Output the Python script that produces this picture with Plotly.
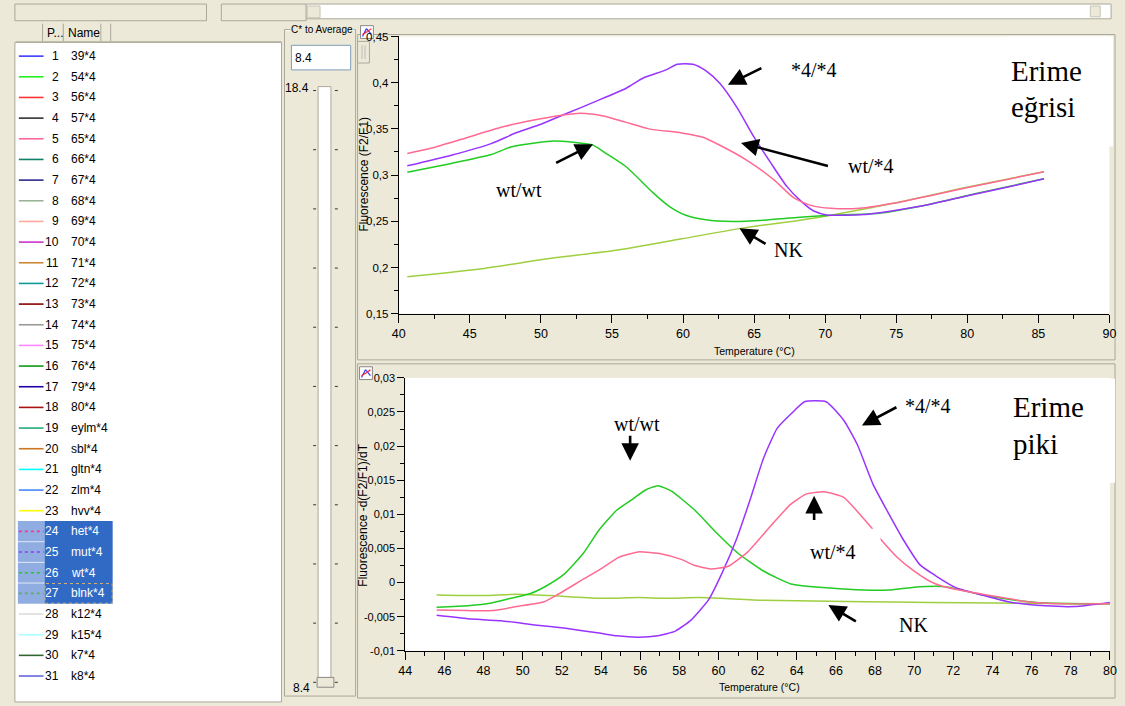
import plotly.graph_objects as go

W, H = 1125, 706
BEIGE = "#ECE9D8"
EDGE = "#ACA899"
SELECT_BLUE = "#316AC5"

# ---------------- sample list (left panel) ----------------
sample_names = ["39*4", "54*4", "56*4", "57*4", "65*4", "66*4", "67*4", "68*4", "69*4", "70*4",
                "71*4", "72*4", "73*4", "74*4", "75*4", "76*4", "79*4", "80*4", "eylm*4", "sbl*4",
                "gltn*4", "zlm*4", "hvv*4", "het*4", "mut*4", "wt*4", "blnk*4", "k12*4", "k15*4",
                "k7*4", "k8*4"]
sample_colors = ["#3c3cff", "#22ee22", "#ff3333", "#303030", "#ff6699", "#11806a", "#2a2a88",
                 "#99b399", "#ffaa99", "#cc33cc", "#cc8833", "#119999", "#880000", "#999999",
                 "#ff88ff", "#119911", "#2200aa", "#aa1111", "#22aa77", "#cc7722", "#00ffff",
                 "#4488ff", "#ffff00", "#ff3399", "#9933ff", "#22cc22", "#66aa66", "#dddddd",
                 "#aaffff", "#336633", "#6666dd"]
selected_samples = ["het*4", "mut*4", "wt*4", "blnk*4"]
focused_sample = "blnk*4"

# ---------------- melting curves: F2/F1 vs temperature ----------------
melt_t_hom = [40.6, 43.7, 46.5, 48.3, 50.0, 51.8, 53.9, 56.0, 57.2, 58.8, 59.6, 60.7, 61.6, 62.6,
              63.8, 65.0, 66.2, 67.3, 68.3, 69.2, 70.1, 72.7, 75.0, 77.3, 80.1, 82.7, 85.4]
melt_hom = [0.310, 0.3215, 0.334, 0.346, 0.355, 0.3666, 0.380, 0.394, 0.405, 0.4138, 0.420, 0.420,
            0.413, 0.399, 0.373, 0.341, 0.3126, 0.2878, 0.2718, 0.2611, 0.2569, 0.2572, 0.2620,
            0.2682, 0.2780, 0.2865, 0.2960]

melt_t_het = [40.6, 42.6, 44.9, 47.2, 49.5, 51.1, 52.8, 54.4, 56.0, 57.6, 59.9, 61.4, 62.7, 64.5,
              66.4, 67.8, 69.0, 70.4, 72.4, 75.0, 79.7, 85.4]
melt_het = [0.3233, 0.3304, 0.341, 0.3517, 0.3595, 0.364, 0.3669, 0.364, 0.357, 0.350, 0.3456,
            0.341, 0.3315, 0.316, 0.2949, 0.2753, 0.2672, 0.264, 0.264, 0.270, 0.2855, 0.3035]

melt_t_wt = [40.6, 43.7, 46.5, 47.9, 49.7, 50.9, 52.1, 53.7, 54.6, 56.0, 57.9, 59.0, 60.2, 61.6,
             63.5, 65.7, 68.0, 70.4, 73.8, 77.3, 80.8, 85.4]
melt_wt = [0.303, 0.3126, 0.3222, 0.3304, 0.335, 0.3368, 0.3357, 0.3321, 0.3233, 0.309, 0.2807,
           0.2665, 0.2565, 0.2516, 0.2498, 0.2512, 0.254, 0.2565, 0.2587, 0.2682, 0.2807, 0.296]

melt_t_nk = [40.6, 46.0, 50.6, 55.3, 59.9, 64.5, 68.0, 70.4, 75.0, 79.7, 85.4]
melt_nk = [0.190, 0.199, 0.2097, 0.2186, 0.231, 0.2434, 0.2505, 0.2565, 0.270, 0.286, 0.3037]

# ---------------- melting peaks: -d(F2/F1)/dT ----------------
peak_t_hom = [45.6, 47.2, 48.9, 50.6, 52.2, 53.9, 54.8, 55.9, 56.9, 57.8, 58.6, 59.5, 60.2, 60.9,
              61.6, 62.3, 63.0, 63.7, 64.4, 65.5, 66.4, 67.1, 67.9, 68.7, 69.4, 70.3, 71.1, 72.1,
              73.3, 75.0, 76.7, 78.2, 80.0]
peak_hom = [-0.0048, -0.0053, -0.0056, -0.0062, -0.0067, -0.0074, -0.0078, -0.0080, -0.0078,
            -0.0071, -0.0055, -0.0025, 0.0015, 0.0062, 0.0120, 0.0182, 0.0226, 0.0247, 0.0265,
            0.0265, 0.0238, 0.0202, 0.0144, 0.0101, 0.0065, 0.0026, 0.0010, -0.0007, -0.0017,
            -0.0029, -0.0034, -0.0035, -0.0029]

peak_t_het = [45.6, 47.2, 48.5, 49.7, 51.1, 51.7, 53.1, 54.1, 54.9, 55.9, 57.1, 58.1, 58.8, 59.6,
              60.5, 61.5, 62.7, 63.7, 64.5, 65.4, 66.4, 67.2, 67.8, 68.3, 69.1, 69.9, 70.8, 71.4,
              72.5, 74.1, 75.8, 77.5, 80.0]
peak_het = [-0.0040, -0.0041, -0.0041, -0.0035, -0.0028, -0.0019, 0.0005, 0.0022, 0.0037, 0.0045,
            0.0042, 0.0034, 0.0025, 0.0020, 0.0024, 0.0045, 0.0084, 0.0115, 0.0130, 0.0133,
            0.0125, 0.0101, 0.0081, 0.0063, 0.0038, 0.0019, 0.0002, -0.0005, -0.0012, -0.0020,
            -0.0028, -0.0031, -0.0031]

peak_t_wt = [45.6, 47.2, 48.4, 49.4, 50.4, 51.2, 52.1, 53.1, 53.9, 54.8, 55.6, 56.3, 56.9, 57.6,
             58.8, 59.9, 61.0, 62.3, 63.7, 65.7, 67.4, 68.7, 69.9, 71.6, 73.3, 75.0, 76.7, 78.4,
             80.0]
peak_wt = [-0.0036, -0.0034, -0.0030, -0.0023, -0.0016, -0.0005, 0.0012, 0.0043, 0.0077, 0.0106,
           0.0122, 0.0136, 0.0142, 0.0134, 0.0106, 0.0073, 0.0043, 0.0017, -0.0002, -0.0008,
           -0.0011, -0.0011, -0.0007, -0.0006, -0.0017, -0.0025, -0.0030, -0.0031, -0.0031]

peak_t_nk = [45.6, 48.0, 49.7, 51.4, 53.9, 55.9, 57.3, 59.0, 60.1, 62.3, 67.4, 70.8, 74.1, 80.0]
peak_nk = [-0.0018, -0.0019, -0.0017, -0.0019, -0.0023, -0.0022, -0.0023, -0.0022, -0.0023,
           -0.0026, -0.0028, -0.0029, -0.0030, -0.0031]

# ---------------- axis ticks ----------------
melt_x_ticks = [40, 45, 50, 55, 60, 65, 70, 75, 80, 85, 90]
melt_x_minor = [42.5, 47.5, 52.5, 57.5, 62.5, 67.5, 72.5, 77.5, 82.5, 87.5]
melt_y_ticks = [0.15, 0.20, 0.25, 0.30, 0.35, 0.40, 0.45]
melt_y_minor = [0.175, 0.225, 0.275, 0.325, 0.375, 0.425]
melt_y_labels = ["0,15", "0,2", "0,25", "0,3", "0,35", "0,4", "0,45"]

peak_x_ticks = [44, 46, 48, 50, 52, 54, 56, 58, 60, 62, 64, 66, 68, 70, 72, 74, 76, 78, 80]
peak_x_minor = [45, 47, 49, 51, 53, 55, 57, 59, 61, 63, 65, 67, 69, 71, 73, 75, 77, 79]
peak_y_ticks = [-0.01, -0.005, 0, 0.005, 0.01, 0.015, 0.02, 0.025, 0.03]
peak_y_minor = [-0.0075, -0.0025, 0.0025, 0.0075, 0.0125, 0.0175, 0.0225, 0.0275]
peak_y_labels = ["-0,01", "-0,005", "0", "0,005", "0,01", "0,015", "0,02", "0,025", "0,03"]

COL_HOM, COL_HET, COL_WT, COL_NK = "#9933ff", "#ff6a92", "#22cc22", "#9fcf3f"

SANS = "Liberation Sans, Arial, sans-serif"
SERIF = "Liberation Serif, Times New Roman, serif"


def px(x):
    return x / W


def py(y):
    return 1 - y / H


shapes = []
annotations = []


def rect(x0, y0, x1, y1, fill=None, line=None, lw=1, layer="below", dash=None):
    ln = dict(width=lw if line else 0, color=line or "rgba(0,0,0,0)")
    if dash:
        ln["dash"] = dash
    shapes.append(dict(type="rect", xref="paper", yref="paper", x0=px(x0), x1=px(x1),
                       y0=py(y1), y1=py(y0), fillcolor=fill or "rgba(0,0,0,0)", line=ln,
                       layer=layer))


def seg(x0, y0, x1, y1, color, lw=1, layer="below", dash=None):
    ln = dict(width=lw, color=color)
    if dash:
        ln["dash"] = dash
    shapes.append(dict(type="line", xref="paper", yref="paper", x0=px(x0), x1=px(x1),
                       y0=py(y0), y1=py(y1), line=ln, layer=layer))


def label(x, y, s, size, family=SANS, color="black", xanchor="center", yanchor="middle",
          angle=0, bg=None):
    a = dict(x=px(x), y=py(y), xref="paper", yref="paper", text=s, showarrow=False,
             font=dict(size=size, family=family, color=color), xanchor=xanchor,
             yanchor=yanchor, textangle=angle, borderpad=0)
    if bg:
        a["bgcolor"] = bg
    annotations.append(a)


def arrow(tail, tip):
    annotations.append(dict(x=px(tip[0]), y=py(tip[1]), xref="paper", yref="paper", text="",
                            showarrow=True, ax=tail[0] - tip[0], ay=tail[1] - tip[1],
                            arrowhead=2, arrowsize=1.35, arrowwidth=2.6, arrowcolor="black",
                            standoff=0))


# ---------------- window chrome ----------------
rect(8, -2, 202, 15, line=EDGE)
rect(217, -2, 303, 15, line=EDGE)
rect(303, -2, 1118, 13, fill="white", line=EDGE)
rect(304, 0, 317, 12, fill=BEIGE, line="#c8c4b4")
rect(1097, 0, 1107, 11, fill=BEIGE, line="#c8c4b4")

# list panel
rect(8, 37, 278, 708, fill="white", line=EDGE)
rect(9, 17, 36, 36, fill=BEIGE, line=None)
seg(36, 18, 36, 36, EDGE)
seg(57, 18, 57, 36, EDGE)
seg(95, 18, 95, 36, EDGE)
seg(105, 18, 105, 36, EDGE)
seg(9, 36.5, 278, 36.5, EDGE)
label(39, 27, "P...", 12, xanchor="left")
label(61, 27, "Name", 12, xanchor="left")

ROW0, ROWSTEP = 51.0, 21.02
sel_rows = [i for i, n in enumerate(sample_names) if n in selected_samples]
if sel_rows:
    top = ROW0 + min(sel_rows) * ROWSTEP - ROWSTEP / 2
    bot = ROW0 + max(sel_rows) * ROWSTEP + ROWSTEP / 2
    rect(11, top, 38, bot, fill="#8FADE0")
    rect(38, top, 107, bot, fill=SELECT_BLUE)
    for i in sel_rows[1:]:
        yb = ROW0 + i * ROWSTEP - ROWSTEP / 2
        seg(11, yb, 38, yb, "#dfe8f8")
    fi = sample_names.index(focused_sample)
    rect(38.5, ROW0 + fi * ROWSTEP - ROWSTEP / 2 + 0.5, 106.5,
         ROW0 + fi * ROWSTEP + ROWSTEP / 2 - 0.5, line="#d8b070", dash="dot")

for i, (name, colr) in enumerate(zip(sample_names, sample_colors)):
    yc = ROW0 + i * ROWSTEP
    selected = name in selected_samples
    seg(12, yc, 37, yc, colr, lw=1.6, dash="dot" if selected else None)
    tc = "white" if selected else "black"
    label(53.5, yc, str(i + 1), 12, color=tc, xanchor="right")
    label(63.5, yc, name, 12, color=tc, xanchor="left")

# "C* to Average" group
rect(281, 24, 353, 702, line=EDGE)
seg(282, 25, 352, 25, "white")
label(287, 24, "C* to Average", 10, xanchor="left", bg=BEIGE)
rect(288, 40, 348, 65, fill="white", line="#7f9db9")
label(291, 52.5, "8.4", 12, xanchor="left")
label(294, 83, "18.4", 12)
label(298, 694, "8.4", 12)
rect(315, 82, 328, 690, fill="white", line=EDGE)
for k in range(11):
    yt = 86 + k * 60.2
    seg(310, yt, 313, yt, "#333333")
    seg(332, yt, 335, yt, "#333333")
rect(314, 683, 331, 693, fill=BEIGE, line="#888888")

# chart panels
rect(355, 29, 1122, 360, line=EDGE)
rect(355, 364, 1122, 704, line=EDGE)
rect(355, 36, 367, 58, fill=BEIGE, line=EDGE)
seg(359.5, 40, 359.5, 54, "#bbbbbb")
seg(362.5, 40, 362.5, 54, "#bbbbbb")
for (ix, iy) in [(358, 20), (357, 367)]:
    rect(ix, iy, ix + 13, iy + 13, fill="white", line="#888888")
    seg(ix + 2, iy + 11, ix + 6, iy + 3, "#3333ff", lw=1.2)
    seg(ix + 6, iy + 3, ix + 11, iy + 9, "#3333ff", lw=1.2)
    seg(ix + 2, iy + 9, ix + 7, iy + 6, "#ff2222", lw=1.2)
    seg(ix + 7, iy + 6, ix + 11, iy + 3, "#ff2222", lw=1.2)

# ---------------- traces ----------------
fig = go.Figure()
for xs, ys, c in [(melt_t_nk, melt_nk, COL_NK), (melt_t_wt, melt_wt, COL_WT),
                  (melt_t_hom, melt_hom, COL_HOM), (melt_t_het, melt_het, COL_HET)]:
    fig.add_trace(go.Scatter(x=xs, y=ys, mode="lines",
                             line=dict(color=c, width=1.5, shape="spline", smoothing=0.6),
                             xaxis="x", yaxis="y", showlegend=False, hoverinfo="skip"))
for xs, ys, c in [(peak_t_nk, peak_nk, COL_NK), (peak_t_wt, peak_wt, COL_WT),
                  (peak_t_hom, peak_hom, COL_HOM), (peak_t_het, peak_het, COL_HET)]:
    fig.add_trace(go.Scatter(x=xs, y=ys, mode="lines",
                             line=dict(color=c, width=1.5, shape="spline", smoothing=0.5),
                             xaxis="x2", yaxis="y2", showlegend=False, hoverinfo="skip"))

# text backgrounds drawn over the curves
rect(1012, 31, 1120, 143, fill="white", layer="above")
rect(1012, 379, 1122, 485, fill="white", layer="above")
rect(810, 531.7, 884.5, 563.3, fill="white", layer="above")

# ---------------- labels & arrows ----------------
label(816.7, 65, "*4/*4", 20, family=SERIF)
label(875, 163, "wt/*4", 20, family=SERIF)
label(791.7, 248, "NK", 20, family=SERIF)
label(518.3, 186.7, "wt/wt", 20, family=SERIF)
label(1016, 66.5, "Erime", 29, family=SERIF, xanchor="left")
label(1016, 103, "eğrisi", 29, family=SERIF, xanchor="left")
arrow((765, 62.7), (730, 80))
arrow((831.7, 162.7), (743.3, 139.3))
arrow((769.3, 242.7), (741.7, 226))
arrow((555, 160), (593.3, 140.7))

label(638.3, 425, "wt/wt", 20, family=SERIF)
label(932.3, 406.7, "*4/*4", 20, family=SERIF)
label(1018, 407.7, "Erime", 29, family=SERIF, xanchor="left")
label(1018, 446, "piki", 29, family=SERIF, xanchor="left")
label(836.7, 555, "wt/*4", 20, family=SERIF)
label(918.3, 629.3, "NK", 20, family=SERIF)
arrow((631, 436), (631, 462.7))
arrow((901.7, 407.7), (865.7, 426.7))
arrow((817.3, 524), (817.3, 498.3))
arrow((860.7, 626.7), (831.7, 609.3))

# axis titles
label(362, 171, "Fluorescence (F2/F1)", 12, angle=-90)
label(757, 351, "Temperature (°C)", 10.5)
label(361, 518, "Fluorescence -d(F2/F1)/dT", 12, angle=-90)
label(762, 693, "Temperature (°C)", 10.5)


def axis_common(domain, rng, tv, tt, minor_vals, ticklen, fsize):
    return dict(domain=domain, range=rng, tickvals=tv, ticktext=tt, showgrid=False,
                zeroline=False, showline=True, linecolor="black", linewidth=1, ticks="outside",
                ticklen=ticklen, tickcolor="black", tickwidth=1,
                tickfont=dict(family=SANS, size=fsize, color="black"),
                minor=dict(tickvals=minor_vals, ticks="outside", ticklen=4, tickcolor="black",
                           tickwidth=1, showgrid=False),
                fixedrange=True)


fig.update_layout(
    width=W, height=H, margin=dict(l=0, r=0, t=0, b=0),
    paper_bgcolor=BEIGE, plot_bgcolor="white",
    xaxis=dict(anchor="y", **axis_common([396.7 / W, 1116.3 / W], [40, 90], melt_x_ticks,
                                         [str(v) for v in melt_x_ticks], melt_x_minor, 8, 12.5)),
    yaxis=dict(anchor="x", **axis_common([1 - 313 / H, 1 - 31 / H], [0.15, 0.45], melt_y_ticks,
                                         melt_y_labels, melt_y_minor, 7, 11.5)),
    xaxis2=dict(anchor="y2", **axis_common([403.3 / W, 1116.8 / W], [44, 80], peak_x_ticks,
                                           [str(v) for v in peak_x_ticks], peak_x_minor, 8, 12.5)),
    yaxis2=dict(anchor="x2", **axis_common([1 - 656 / H, 1 - 378.3 / H], [-0.01, 0.03],
                                           peak_y_ticks, peak_y_labels, peak_y_minor, 7, 11)),
    shapes=shapes, annotations=annotations, showlegend=False,
)

fig.write_html("out.html")
